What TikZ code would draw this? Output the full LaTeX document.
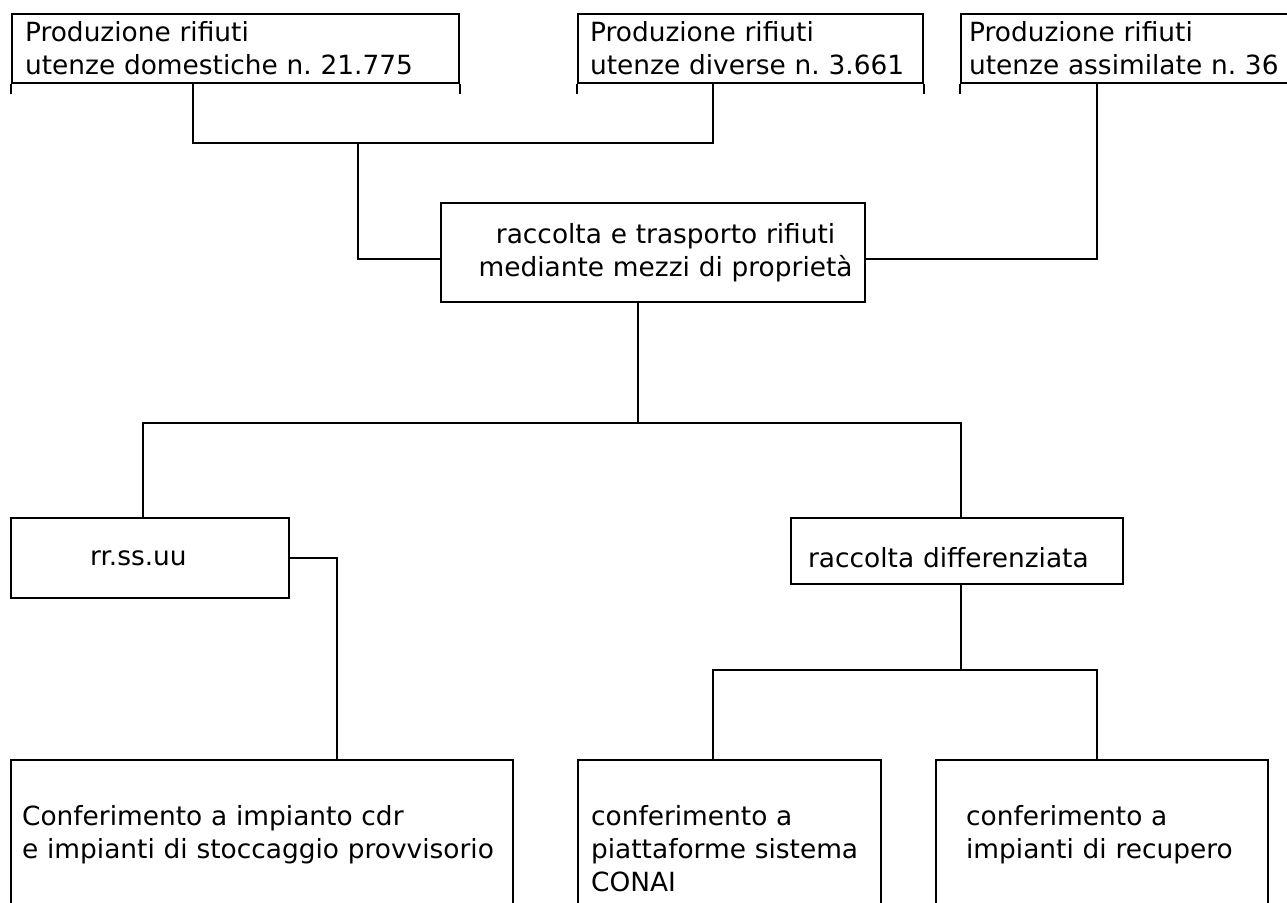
\documentclass[tikz,border=0pt]{standalone}
\usepackage{fontspec}
\setmainfont{DejaVu Sans}
\usetikzlibrary{positioning,calc}
\frenchspacing

\begin{document}
\begin{tikzpicture}[x=1pt, y=-1pt, line width=2.2pt,
    font=\fontsize{26.4}{33}\selectfont,
    box/.style={draw, anchor=north west, inner ysep=0pt, align=left}]
    \useasboundingbox (0,0) rectangle (1287,902);
    \clip (0,0) rectangle (1287,902);

    \node [box, text width=421pt, inner xsep=13pt, minimum height=69pt] (dom) at (11,13) {Produzione rifiuti\\utenze domestiche n. 21.775};
    \node [box, text width=321pt, inner xsep=12pt, minimum height=69pt] (div) at (577,13) {Produzione rifiuti\\utenze diverse n. 3.661};
    \node [box, text width=329pt, inner xsep=8pt, minimum height=69pt] (ass) at (960,13) {Produzione rifiuti\\utenze assimilate n. 36};

    \node [box, align=center, text width=424pt, inner xsep=0pt, minimum height=99pt] (centro) at (440,202) {\hspace*{25pt}raccolta e trasporto rifiuti\\\hspace*{25pt}mediante mezzi di proprietà};

    \node [box, text width=120pt, inner xsep=79pt, minimum height=80pt] (rsu) at (10,517) {rr.ss.uu};
    \node [box, text width=298pt, inner xsep=17pt, text height=39pt, text depth=7pt, minimum height=66pt] (rd) at (790,517) {raccolta differenziata};

    \node [box, text width=480pt, inner xsep=11pt, minimum height=150pt] (cdr) at (10,759) {Conferimento a impianto cdr\\e impianti di stoccaggio provvisorio};
    \node [box, text width=277pt, inner xsep=13pt, minimum height=177pt] (conai) at (577,759) {conferimento a\\piattaforme sistema\\CONAI};
    \node [box, text width=272pt, inner xsep=30pt, minimum height=150pt] (recup) at (935,759) {conferimento a\\impianti di recupero};

    \foreach \n in {dom,div,ass}
        \draw (\n.south west) -- ++(0,10) (\n.south east) -- ++(0,10);

    \coordinate (j1) at (358,143);
    \draw ([xshift=-42.5pt]dom.south) |- (j1) -| ([xshift=-37.5pt]div.south);
    \draw (j1) |- ([yshift=-6pt]centro.west);
    \draw ([xshift=-36.5pt]ass.south) |- ([yshift=-6pt]centro.east);

    \draw ([xshift=-15pt]centro.south) -- ++(0,120) coordinate (j2);
    \draw ([xshift=-7pt]rsu.north) |- (j2) -| ([xshift=4pt]rd.north);

    \draw (rsu.east) -| ([xshift=75pt]cdr.north);

    \draw ([xshift=4pt]rd.south) -- ++(0,85) coordinate (j3);
    \draw ([xshift=-16.5pt]conai.north) |- (j3) -| ([xshift=-5pt]recup.north);
\end{tikzpicture}
\end{document}
